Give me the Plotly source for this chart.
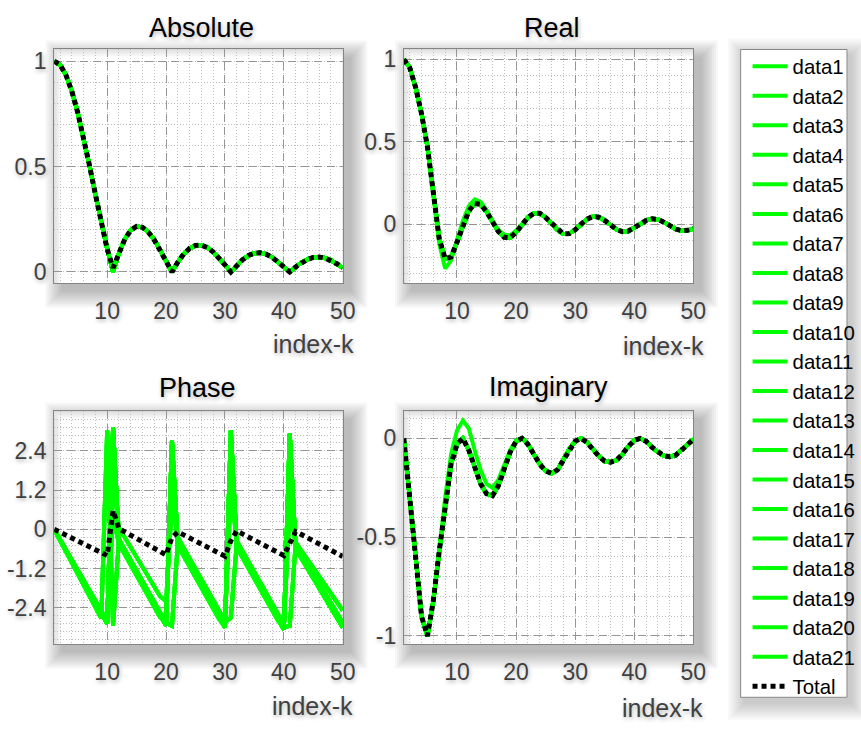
import plotly.graph_objects as go

W, H = 861, 729
FONT = "Liberation Sans, Arial, sans-serif"
GREEN = "#00ff00"

k = list(range(1, 51))

abs_total = [1.000, 0.984, 0.935, 0.858, 0.757, 0.637, 0.505, 0.368, 0.234, 0.109,
             0.020, 0.089, 0.156, 0.198, 0.216, 0.212, 0.189, 0.152, 0.104, 0.052,
             0.000, 0.047, 0.085, 0.112, 0.126, 0.127, 0.116, 0.095, 0.067, 0.034,
             0.000, 0.032, 0.058, 0.078, 0.089, 0.091, 0.084, 0.070, 0.049, 0.025,
             0.000, 0.024, 0.045, 0.060, 0.069, 0.071, 0.066, 0.055, 0.039, 0.020]
abs_data = [1.000, 0.984, 0.935, 0.858, 0.757, 0.637, 0.505, 0.368, 0.234, 0.109,
            0.000, 0.089, 0.156, 0.198, 0.216, 0.212, 0.189, 0.152, 0.104, 0.052,
            0.000, 0.047, 0.085, 0.112, 0.126, 0.127, 0.116, 0.095, 0.067, 0.034,
            0.000, 0.032, 0.058, 0.078, 0.089, 0.091, 0.084, 0.070, 0.049, 0.025,
            0.000, 0.024, 0.045, 0.060, 0.069, 0.071, 0.066, 0.055, 0.039, 0.020]

real_total = [1.00, 0.95, 0.83, 0.67, 0.47, 0.20, -0.09, -0.21, -0.20, -0.11,
              -0.01, 0.08, 0.125, 0.12, 0.075, 0.015, -0.045, -0.08, -0.082, -0.05,
              -0.005, 0.04, 0.065, 0.066, 0.04, 0.005, -0.035, -0.06, -0.058, -0.035,
              0.0, 0.03, 0.046, 0.042, 0.022, -0.008, -0.033, -0.046, -0.042, -0.022,
              0.003, 0.022, 0.032, 0.028, 0.012, -0.01, -0.03, -0.04, -0.038, -0.028]
real_alt = [1.00, 0.95, 0.83, 0.67, 0.47, 0.19, -0.12, -0.27, -0.22, -0.10,
            0.02, 0.11, 0.15, 0.135, 0.085, 0.02, -0.035, -0.065, -0.068, -0.04,
            0.0, 0.04, 0.065, 0.066, 0.04, 0.005, -0.035, -0.06, -0.058, -0.035,
            0.0, 0.03, 0.046, 0.042, 0.022, -0.008, -0.033, -0.046, -0.042, -0.022,
            0.003, 0.022, 0.032, 0.028, 0.012, -0.01, -0.03, -0.04, -0.038, -0.028]

imag_total = [0.0, -0.29, -0.60, -0.90, -1.00, -0.82, -0.57, -0.33, -0.13, -0.03,
              0.0, -0.06, -0.15, -0.23, -0.28, -0.29, -0.24, -0.15, -0.07, -0.015,
              0.0, -0.03, -0.08, -0.13, -0.165, -0.177, -0.16, -0.11, -0.055, -0.015,
              0.0, -0.02, -0.055, -0.09, -0.115, -0.121, -0.11, -0.08, -0.04, -0.01,
              0.0, -0.015, -0.045, -0.07, -0.088, -0.093, -0.085, -0.06, -0.03, -0.005]
imag_alt = [0.0, -0.29, -0.60, -0.90, -1.00, -0.82, -0.57, -0.30, -0.08, 0.04,
            0.09, 0.05, -0.06, -0.16, -0.23, -0.25, -0.21, -0.13, -0.06, -0.01,
            0.0, -0.03, -0.08, -0.13, -0.165, -0.177, -0.16, -0.11, -0.055, -0.015,
            0.0, -0.02, -0.055, -0.09, -0.115, -0.121, -0.11, -0.08, -0.04, -0.01,
            0.0, -0.015, -0.045, -0.07, -0.088, -0.093, -0.085, -0.06, -0.03, -0.005]

phase_total = [0.00, -0.09, -0.18, -0.27, -0.36, -0.45, -0.54, -0.63, -0.72, -0.80,
               0.57, 0.02, -0.08, -0.18, -0.28, -0.38, -0.48, -0.58, -0.68, -0.78,
               -0.25, -0.08, -0.17, -0.27, -0.36, -0.45, -0.55, -0.64, -0.73, -0.82,
               -0.35, -0.05, -0.14, -0.23, -0.33, -0.42, -0.51, -0.60, -0.70, -0.80,
               -0.43, -0.07, -0.16, -0.25, -0.34, -0.44, -0.53, -0.62, -0.72, -0.83]
phase_a = [0.00, -0.32, -0.64, -0.96, -1.28, -1.60, -1.92, -2.24, -2.56, -2.88,
           3.10, -0.38, -0.70, -1.02, -1.34, -1.66, -1.98, -2.30, -2.62, -2.94,
           2.70, -0.44, -0.76, -1.08, -1.40, -1.72, -2.04, -2.36, -2.68, -3.00,
           3.02, -0.50, -0.82, -1.14, -1.46, -1.78, -2.10, -2.42, -2.74, -3.06,
           2.92, -0.55, -0.86, -1.16, -1.47, -1.78, -2.08, -2.39, -2.70, -3.00]
phase_b = [0.00, -0.34, -0.68, -1.02, -1.36, -1.70, -2.04, -2.38, -2.72, 3.03,
           -2.94, -0.30, -0.62, -0.94, -1.26, -1.58, -1.90, -2.22, -2.54, -2.86,
           -2.95, -0.40, -0.72, -1.04, -1.36, -1.68, -2.00, -2.32, -2.64, -2.84,
           -2.70, -0.42, -0.74, -1.06, -1.38, -1.70, -2.02, -2.34, -2.66, -2.99,
           -2.95, -0.45, -0.75, -1.05, -1.35, -1.65, -1.95, -2.25, -2.55, -2.85]
phase_c = [0.00, -0.33, -0.66, -0.99, -1.32, -1.65, -1.98, -2.31, -2.64, -2.80,
           1.50, 0.05, -0.25, -0.55, -0.85, -1.15, -1.45, -1.75, -2.05, -2.20,
           0.80, -0.25, -0.57, -0.89, -1.21, -1.53, -1.85, -2.17, -2.49, -2.80,
           1.20, -0.35, -0.67, -0.99, -1.31, -1.63, -1.95, -2.27, -2.59, -2.90,
           0.60, -0.40, -0.66, -0.92, -1.18, -1.44, -1.70, -1.96, -2.22, -2.48]
phase_d = [0.00, -0.31, -0.62, -0.93, -1.24, -1.55, -1.86, -2.17, -2.48, -2.79,
           0.40, -0.45, -0.77, -1.09, -1.41, -1.73, -2.05, -2.37, -2.69, -2.75,
           1.80, -0.50, -0.82, -1.14, -1.46, -1.78, -2.10, -2.42, -2.74, -2.95,
           2.00, -0.55, -0.87, -1.19, -1.51, -1.83, -2.15, -2.47, -2.79, -3.00,
           1.40, -0.60, -0.90, -1.20, -1.50, -1.80, -2.10, -2.40, -2.70, -2.90]

series_names = ["data%d" % i for i in range(1, 22)]
phase_pick = ["a", "b", "a", "c", "a", "d", "b", "a", "c", "a", "d",
              "a", "b", "a", "c", "a", "d", "a", "b", "a", "a"]
alt_series = "data1"

x_ticks = [10, 20, 30, 40, 50]
abs_ticks = [0, 0.5, 1]
abs_ticktext = ["0", "0.5", "1"]
real_ticks = [0, 0.5, 1]
real_ticktext = ["0", "0.5", "1"]
phase_ticks = [-2.4, -1.2, 0, 1.2, 2.4]
phase_ticktext = ["-2.4", "-1.2", "0", "1.2", "2.4"]
imag_ticks = [-1, -0.5, 0]
imag_ticktext = ["-1", "-0.5", "0"]

phase_sets = {"a": phase_a, "b": phase_b, "c": phase_c, "d": phase_d}

# panel pixel boxes (x0, y0, x1, y1)
boxes = {
    "abs": (55, 47, 348, 283),
    "real": (410, 47, 704, 283),
    "phase": (55, 413, 348, 648),
    "imag": (410, 413, 704, 648),
}
axis_ids = {"abs": ("x", "y"), "real": ("x2", "y2"), "phase": ("x3", "y3"), "imag": ("x4", "y4")}

fig = go.Figure()

for i, name in enumerate(series_names):
    ph = phase_sets[phase_pick[i]]
    re_ = real_alt if name == alt_series else real_total
    im_ = imag_alt if name == alt_series else imag_total
    for key, yv in (("abs", abs_data), ("real", re_), ("phase", ph), ("imag", im_)):
        xa, ya = axis_ids[key]
        fig.add_trace(go.Scatter(
            x=k, y=yv, mode="lines", name=name, legendgroup=name,
            showlegend=(key == "abs"), xaxis=xa, yaxis=ya,
            line=dict(color=GREEN, width=4)))

for key, yv in (("abs", abs_total), ("real", real_total), ("phase", phase_total), ("imag", imag_total)):
    xa, ya = axis_ids[key]
    fig.add_trace(go.Scatter(
        x=k, y=yv, mode="lines", name="Total", legendgroup="Total",
        showlegend=(key == "abs"), xaxis=xa, yaxis=ya,
        line=dict(color="black", width=5, dash="5px,4px")))

TXT_SHADOW = "1px 2px 4px rgba(0,0,0,0.30)"


def px_x(v):
    return v / W


def px_y(v):
    return 1 - v / H


def xaxis_cfg(box, anchor):
    return dict(domain=[px_x(box[0]), px_x(box[2])], anchor=anchor, range=[1, 50],
                tickmode="array", tickvals=x_ticks, ticktext=[str(t) for t in x_ticks],
                showline=True, mirror=True, linecolor="#858585", linewidth=1,
                showgrid=True, gridcolor="#959595", griddash="8px,5px", gridwidth=1,
                zeroline=False, ticks="", ticklabelstandoff=8,
                tickfont=dict(size=23, color="#404040", family=FONT, shadow=TXT_SHADOW),
                minor=dict(dtick=2, tick0=0, showgrid=True, gridcolor="#bdbdbd",
                           griddash="1px,2px", gridwidth=1),
                fixedrange=True)


def yaxis_cfg(box, anchor, rng, tv, tt, mdt):
    return dict(domain=[px_y(box[3]), px_y(box[1])], anchor=anchor, range=rng,
                tickmode="array", tickvals=tv, ticktext=tt,
                showline=True, mirror=True, linecolor="#858585", linewidth=1,
                showgrid=True, gridcolor="#959595", griddash="8px,5px", gridwidth=1,
                zeroline=False, ticks="", ticklabelstandoff=2,
                tickfont=dict(size=23, color="#404040", family=FONT, shadow=TXT_SHADOW),
                minor=dict(dtick=mdt, tick0=0, showgrid=True, gridcolor="#bdbdbd",
                           griddash="1px,2px", gridwidth=1),
                fixedrange=True)


layout = dict(
    width=W, height=H, margin=dict(l=0, r=0, t=0, b=0),
    paper_bgcolor="white", plot_bgcolor="white",
    font=dict(family=FONT, color="black"),
    xaxis=xaxis_cfg(boxes["abs"], "y"),
    yaxis=yaxis_cfg(boxes["abs"], "x", [-0.052, 1.056], abs_ticks, abs_ticktext, 0.1),
    xaxis2=xaxis_cfg(boxes["real"], "y2"),
    yaxis2=yaxis_cfg(boxes["real"], "x2", [-0.357, 1.06], real_ticks, real_ticktext, 0.1),
    xaxis3=xaxis_cfg(boxes["phase"], "y3"),
    yaxis3=yaxis_cfg(boxes["phase"], "x3", [-3.5, 3.6], phase_ticks, phase_ticktext, 0.24),
    xaxis4=xaxis_cfg(boxes["imag"], "y4"),
    yaxis4=yaxis_cfg(boxes["imag"], "x4", [-1.04, 0.136], imag_ticks, imag_ticktext, 0.1),
    legend=dict(x=px_x(759), y=px_y(44), xanchor="left", yanchor="top",
                borderwidth=0, bgcolor="rgba(0,0,0,0)",
                font=dict(size=20.4, color="black", family=FONT),
                traceorder="grouped", tracegroupgap=0, itemwidth=35),
)
fig.update_layout(**layout)

titles = [("Absolute", 205, 25), ("Real", 560, 25), ("Phase", 201, 389), ("Imaginary", 557, 388)]
for t, cx, cy in titles:
    fig.add_annotation(text=t, x=px_x(cx), y=px_y(cy), xref="paper", yref="paper",
                       xanchor="center", yanchor="middle", showarrow=False,
                       font=dict(size=27, color="black", family=FONT, shadow=TXT_SHADOW))

xlabels = [(361, 345), (717, 347), (360, 711), (716, 713)]
for rx, cy in xlabels:
    fig.add_annotation(text="index-k", x=px_x(rx), y=px_y(cy), xref="paper", yref="paper",
                       xanchor="right", yanchor="middle", showarrow=False,
                       font=dict(size=25, color="#404040", family=FONT, shadow=TXT_SHADOW))


def ring_path(x0, y0, x1, y1, s, ox=8, oy=8):
    ax0, ay0, ax1, ay1 = x0 + ox - s, y0 + oy - s, x1 + ox + s, y1 + oy + s
    outer = "M{:.5f},{:.5f} L{:.5f},{:.5f} L{:.5f},{:.5f} L{:.5f},{:.5f} Z".format(
        px_x(ax0), px_y(ay0), px_x(ax1), px_y(ay0), px_x(ax1), px_y(ay1), px_x(ax0), px_y(ay1))
    inner = " M{:.5f},{:.5f} L{:.5f},{:.5f} L{:.5f},{:.5f} L{:.5f},{:.5f} Z".format(
        px_x(x0), px_y(y0), px_x(x1), px_y(y0), px_x(x1), px_y(y1), px_x(x0), px_y(y1))
    return outer + inner


shadow_steps = [17, 15, 13, 11, 9, 7, 5, 3, 1]
for key, b in boxes.items():
    for s in shadow_steps:
        fig.add_shape(type="path", path=ring_path(*b, s), xref="paper", yref="paper",
                      fillcolor="rgba(0,0,0,0.03)", line=dict(width=0),
                      fillrule="evenodd", layer="below")

leg_box = (752, 47, 860, 702)
for s in shadow_steps:
    fig.add_shape(type="path", path=ring_path(*leg_box, s, 4, 6), xref="paper", yref="paper",
                  fillcolor="rgba(0,0,0,0.022)", line=dict(width=0),
                  fillrule="evenodd", layer="below")
fig.add_shape(type="rect", x0=px_x(leg_box[0]), x1=px_x(leg_box[2]),
              y0=px_y(leg_box[3]), y1=px_y(leg_box[1]), xref="paper", yref="paper",
              fillcolor="white", line=dict(color="#858585", width=1), layer="above")

fig.write_html("out.html")
